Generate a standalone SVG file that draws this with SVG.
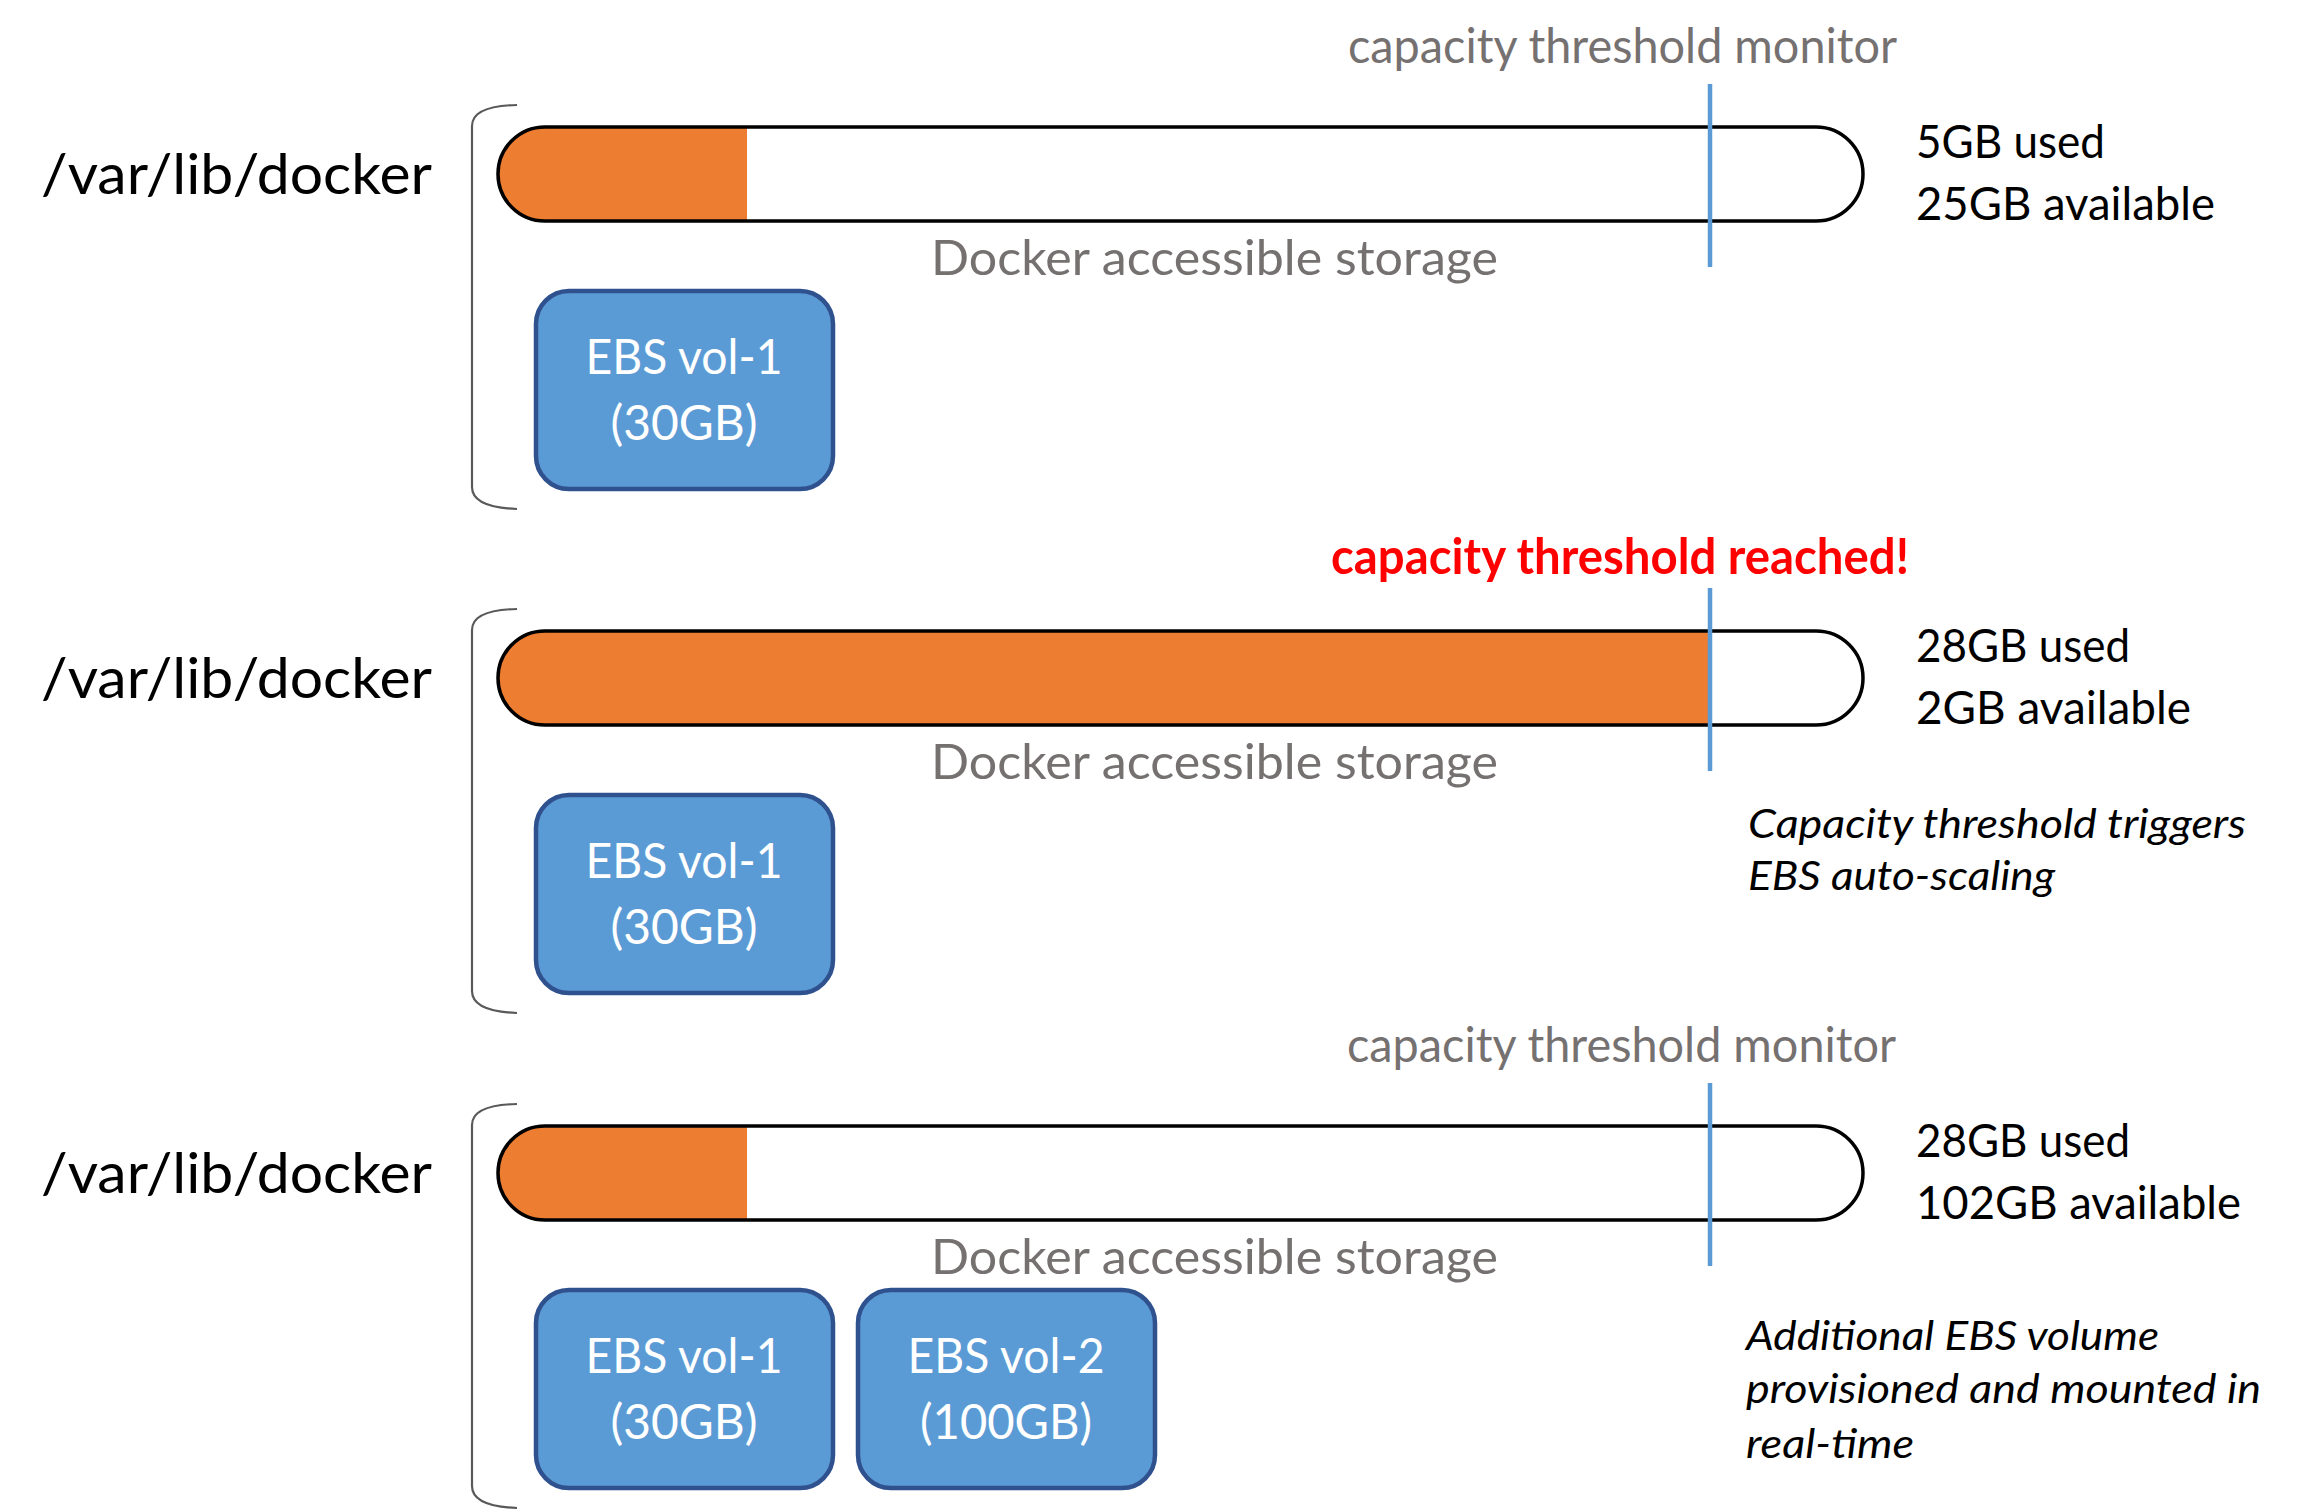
<svg xmlns="http://www.w3.org/2000/svg" width="2309" height="1511" viewBox="0 0 2309 1511">
<style>
text{font-family:Lato,"Open Sans","Liberation Sans",sans-serif}
.path{font-size:57px;fill:#000}
.gray{font-size:49px;fill:#767171}
.red{font-size:49px;fill:#FF0000;font-weight:bold}
.info{font-size:46px;fill:#000}
.note{font-size:41px;fill:#000;font-style:italic}
.ebs{font-size:48px;fill:#FFFFFF;text-anchor:middle}
.bar{fill:#FFFFFF;stroke:none}
.bar-outline{fill:none;stroke:#000;stroke-width:3.5}
.used{fill:#ED7D31;stroke:none}
.brace{fill:none;stroke:#595959;stroke-width:2.2}
.box{fill:#5B9BD5;stroke:#2F528F;stroke-width:4.5}
.thr{stroke:#5B9BD5;stroke-width:4.5}
</style>
<defs>
<path id="barshape" d="M545,127 H1816 A47,47 0 0 1 1816,221 H545 A47,47 0 0 1 545,127 Z"/>
<path id="bracepath" d="M517,105 C490,105.5 472,111 472,126 V487 C472,502 490,508 517,509"/>
</defs>
<rect x="0" y="0" width="2309" height="1511" fill="#FFFFFF"/>

<!-- Row 1 -->
<g id="row1">
<g id="row1-label"><text class="path" x="41" y="194" textLength="391" lengthAdjust="spacingAndGlyphs">/var/lib/docker</text></g>
<g id="row1-bracket"><use href="#bracepath" class="brace"/></g>
<g id="row1-bar">
<use href="#barshape" class="bar"/>
<path class="used" d="M747,127 H545 A47,47 0 0 0 545,221 H747 Z"/>
<use href="#barshape" class="bar-outline"/>
<text class="gray" x="931" y="275" textLength="567" lengthAdjust="spacingAndGlyphs">Docker accessible storage</text>
</g>
<g id="row1-monitor"><text class="gray" x="1348" y="63" textLength="549" lengthAdjust="spacingAndGlyphs">capacity threshold monitor</text></g>
<g id="row1-stats">
<text class="info" x="1916" y="158" textLength="189" lengthAdjust="spacingAndGlyphs">5GB used</text>
<text class="info" x="1916" y="220" textLength="299" lengthAdjust="spacingAndGlyphs">25GB available</text>
</g>
<g id="row1-ebs1">
<rect class="box" x="536" y="291" width="297" height="198" rx="33"/>
<text class="ebs" x="684" y="374" textLength="197" lengthAdjust="spacingAndGlyphs">EBS vol-1</text>
<text class="ebs" x="684" y="440" textLength="147" lengthAdjust="spacingAndGlyphs">(30GB)</text>
</g>
</g>

<!-- Row 2 -->
<g id="row2" transform="translate(0,504)">
<g id="row2-label"><text class="path" x="41" y="194" textLength="391" lengthAdjust="spacingAndGlyphs">/var/lib/docker</text></g>
<g id="row2-bracket"><use href="#bracepath" class="brace"/></g>
<g id="row2-bar">
<use href="#barshape" class="bar"/>
<path class="used" d="M1710,127 H545 A47,47 0 0 0 545,221 H1710 Z"/>
<use href="#barshape" class="bar-outline"/>
<text class="gray" x="931" y="275" textLength="567" lengthAdjust="spacingAndGlyphs">Docker accessible storage</text>
</g>
<g id="row2-alert"><text class="red" x="1331" y="70" textLength="578" lengthAdjust="spacingAndGlyphs">capacity threshold reached!</text></g>
<g id="row2-stats">
<text class="info" x="1916" y="158" textLength="214" lengthAdjust="spacingAndGlyphs">28GB used</text>
<text class="info" x="1916" y="220" textLength="275" lengthAdjust="spacingAndGlyphs">2GB available</text>
</g>
<g id="row2-note">
<text class="note" x="1748" y="334" textLength="498" lengthAdjust="spacingAndGlyphs">Capacity threshold triggers</text>
<text class="note" x="1748" y="386" textLength="307" lengthAdjust="spacingAndGlyphs">EBS auto-scaling</text>
</g>
<g id="row2-ebs1">
<rect class="box" x="536" y="291" width="297" height="198" rx="33"/>
<text class="ebs" x="684" y="374" textLength="197" lengthAdjust="spacingAndGlyphs">EBS vol-1</text>
<text class="ebs" x="684" y="440" textLength="147" lengthAdjust="spacingAndGlyphs">(30GB)</text>
</g>
</g>

<!-- Row 3 -->
<g id="row3" transform="translate(0,999)">
<g id="row3-label"><text class="path" x="41" y="194" textLength="391" lengthAdjust="spacingAndGlyphs">/var/lib/docker</text></g>
<g id="row3-bracket"><use href="#bracepath" class="brace"/></g>
<g id="row3-bar">
<use href="#barshape" class="bar"/>
<path class="used" d="M747,127 H545 A47,47 0 0 0 545,221 H747 Z"/>
<use href="#barshape" class="bar-outline"/>
<text class="gray" x="931" y="275" textLength="567" lengthAdjust="spacingAndGlyphs">Docker accessible storage</text>
</g>
<g id="row3-monitor"><text class="gray" x="1347" y="63" textLength="549" lengthAdjust="spacingAndGlyphs">capacity threshold monitor</text></g>
<g id="row3-stats">
<text class="info" x="1916" y="158" textLength="214" lengthAdjust="spacingAndGlyphs">28GB used</text>
<text class="info" x="1916" y="220" textLength="325" lengthAdjust="spacingAndGlyphs">102GB available</text>
</g>
<g id="row3-note">
<text class="note" x="1746" y="351" textLength="413" lengthAdjust="spacingAndGlyphs">Additional EBS volume</text>
<text class="note" x="1746" y="404" textLength="515" lengthAdjust="spacingAndGlyphs">provisioned and mounted in</text>
<text class="note" x="1746" y="459" textLength="168" lengthAdjust="spacingAndGlyphs">real-time</text>
</g>
<g id="row3-ebs1">
<rect class="box" x="536" y="291" width="297" height="198" rx="33"/>
<text class="ebs" x="684" y="374" textLength="197" lengthAdjust="spacingAndGlyphs">EBS vol-1</text>
<text class="ebs" x="684" y="440" textLength="147" lengthAdjust="spacingAndGlyphs">(30GB)</text>
</g>
<g id="row3-ebs2">
<rect class="box" x="858" y="291" width="297" height="198" rx="33"/>
<text class="ebs" x="1006" y="374" textLength="197" lengthAdjust="spacingAndGlyphs">EBS vol-2</text>
<text class="ebs" x="1006" y="440" textLength="172" lengthAdjust="spacingAndGlyphs">(100GB)</text>
</g>
</g>

<!-- Threshold markers -->
<g id="connectors">
<line class="thr" x1="1710" y1="84" x2="1710" y2="267"/>
<line class="thr" x1="1710" y1="588" x2="1710" y2="771"/>
<line class="thr" x1="1710" y1="1083" x2="1710" y2="1266"/>
</g>
</svg>
